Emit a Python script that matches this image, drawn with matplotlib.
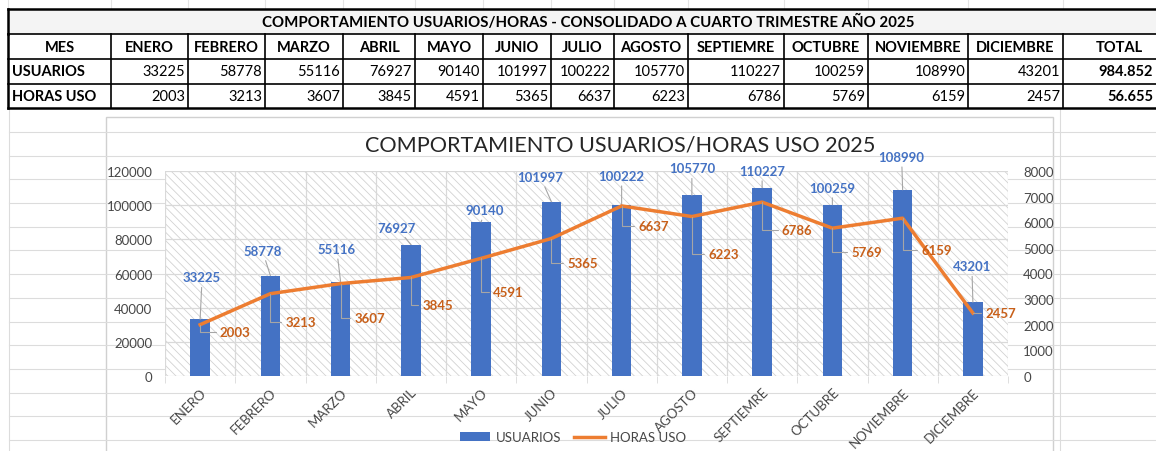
import matplotlib.pyplot as plt
from matplotlib.patches import Rectangle

plt.rcParams['font.family'] = ['Lato', 'DejaVu Sans']
plt.rcParams['hatch.linewidth'] = 0.6

meses = ['ENERO', 'FEBRERO', 'MARZO', 'ABRIL', 'MAYO', 'JUNIO', 'JULIO',
         'AGOSTO', 'SEPTIEMRE', 'OCTUBRE', 'NOVIEMBRE', 'DICIEMBRE']
usuarios = [33225, 58778, 55116, 76927, 90140, 101997, 100222, 105770,
            110227, 100259, 108990, 43201]
horas_uso = [2003, 3213, 3607, 3845, 4591, 5365, 6637, 6223, 6786, 5769, 6159, 2457]

titulo_tabla = 'COMPORTAMIENTO USUARIOS/HORAS - CONSOLIDADO A CUARTO TRIMESTRE AÑO 2025'
titulo_grafico = 'COMPORTAMIENTO USUARIOS/HORAS USO 2025'

# desplazamiento de las etiquetas de datos (px)
off_usuarios = [(2, 42), (-8, 25), (-4, 33), (-14, 17), (4, 12), (-11, 25),
                (0, 29), (0, 27), (0, 17), (0, 17), (-1, 33), (-1, 36)]
off_horas = [(35, -7), (30, -28), (29, -34), (27, -28), (27, -34), (31, -24),
             (32, -20), (32, -37), (35, -28), (34, -24), (34, -32), (28, 0)]

AZUL = '#4472C4'
NARANJA = '#ED7D31'
GRIS = '#474747'

W, H = 1156, 452
fig = plt.figure(figsize=(W / 100, H / 100), dpi=100)

# hoja de cálculo de fondo (coordenadas en píxeles)
hoja = fig.add_axes([0, 0, 1, 1])
hoja.set_xlim(0, W)
hoja.set_ylim(H, 0)
hoja.axis('off')

y = 133
while y < H:
    hoja.plot([9, W], [y, y], color='#dcdcdc', lw=0.8)
    y += 23.7
for xv in (9, 1060):
    hoja.plot([xv, xv], [109, H], color='#dcdcdc', lw=0.8)

cols = [8, 111, 188, 265, 343, 415, 483, 551, 614, 688, 784, 868, 968, 1063, 1175]
filas = [10, 35, 60, 85, 109]
for xv in cols:
    hoja.plot([xv, xv], [0, 10], color='#e4e4e4', lw=0.8)

hoja.add_patch(Rectangle((8, 10), 1167, 25, facecolor='#f4f4f4', lw=0))
for yv in filas:
    hoja.plot([8, W + 20], [yv, yv], color='black', lw=1.8 if yv in (10, 109) else 1.2)
for xv in cols:
    hoja.plot([xv, xv], [35, 109], color='black', lw=1.8 if xv == 8 else 1.2)
hoja.plot([8, 8], [10, 35], color='black', lw=1.8)

hoja.text(588, 22.5, titulo_tabla, ha='center', va='center', fontsize=10.8, fontweight='bold')
encabezado = ['MES'] + meses + ['TOTAL']
for i, txt in enumerate(encabezado):
    hoja.text((cols[i] + cols[i + 1]) / 2, 47.5, txt, ha='center', va='center',
              fontsize=10.5, fontweight='bold')

for yc, nombre, serie in ((72.5, 'USUARIOS', usuarios), (97, 'HORAS USO', horas_uso)):
    hoja.text(12, yc, nombre, ha='left', va='center', fontsize=10.5, fontweight='bold')
    for i, v in enumerate(serie):
        hoja.text(cols[i + 2] - 3, yc, str(v), ha='right', va='center', fontsize=10.5)
    total = f'{sum(serie):,}'.replace(',', '.')
    hoja.text(1153, yc, total, ha='right', va='center', fontsize=10.5, fontweight='bold')

# marco del gráfico
hoja.add_patch(Rectangle((106, 118), 947, 400, facecolor='white', edgecolor='#d0d0d0', lw=1))

ax = fig.add_axes([165 / W, 1 - 377 / H, 843 / W, 205 / H])
x = list(range(len(meses)))
ax.add_patch(Rectangle((0, 0), 1, 1, transform=ax.transAxes, facecolor='white',
                       edgecolor='#d2d2d2', hatch='\\\\\\\\', lw=0, zorder=0))
ax.bar(x, usuarios, width=0.28, color=AZUL, zorder=2, label='USUARIOS')
ax.set_xlim(-0.5, 11.5)
ax.set_ylim(0, 120000)
ax.set_yticks(range(0, 120001, 20000))
ax.set_xticks(x)
ax.set_xticklabels(meses, rotation=45, ha='right', rotation_mode='anchor')
ax.set_xticks([i - 0.5 for i in range(13)], minor=True)
ax.set_axisbelow(True)
ax.yaxis.grid(True, color='#d9d9d9', lw=0.9)
ax.xaxis.grid(True, which='minor', color='#d9d9d9', lw=0.9)
for s in ax.spines.values():
    s.set_visible(False)
ax.tick_params(axis='x', which='major', length=0, pad=7, labelsize=9.5, labelcolor=GRIS)
ax.tick_params(axis='x', which='minor', length=5, color='#d9d9d9')
ax.tick_params(axis='y', length=0, pad=9, labelsize=9.5, labelcolor=GRIS)

for i, v in enumerate(usuarios):
    ax.annotate(str(v), xy=(i, v), xytext=off_usuarios[i], textcoords='offset pixels',
                ha='center', va='center', color=AZUL, fontsize=9.5, fontweight='bold',
                arrowprops=dict(arrowstyle='-', color='#a6a6a6', lw=0.8,
                                shrinkA=1, shrinkB=0), zorder=3)

ax2 = ax.twinx()
ax2.plot(x, horas_uso, color=NARANJA, lw=2.5, zorder=3, label='HORAS USO')
ax2.set_ylim(0, 8000)
ax2.set_yticks(range(0, 8001, 1000))
for s in ax2.spines.values():
    s.set_visible(False)
ax2.tick_params(axis='y', length=0, pad=11, labelsize=9.5, labelcolor=GRIS)

for i, v in enumerate(horas_uso):
    ax2.annotate(str(v), xy=(i, v), xytext=off_horas[i], textcoords='offset pixels',
                 ha='center', va='center', color='#C8601A', fontsize=9.5, fontweight='bold',
                 arrowprops=dict(arrowstyle='-', color='#a6a6a6', lw=0.8, shrinkA=1, shrinkB=0,
                                 connectionstyle='angle,angleA=0,angleB=90,rad=0'))

fig.text(620 / W, 1 - 145 / H, titulo_grafico, ha='center', va='center',
         fontsize=15.6, color='#262626')

h1, l1 = ax.get_legend_handles_labels()
h2, l2 = ax2.get_legend_handles_labels()
fig.legend(h1 + h2, l1 + l2, loc='center', bbox_to_anchor=(573 / W, 1 - 438 / H),
           ncol=2, frameon=False, fontsize=9.5, labelcolor=GRIS, handlelength=2.3,
           handleheight=0.6, columnspacing=1.0, handletextpad=0.4)

fig.savefig('out.png', dpi=100)
